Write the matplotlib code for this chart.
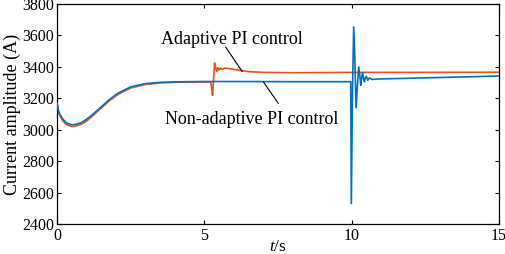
import matplotlib
matplotlib.use("Agg")
import matplotlib.pyplot as plt

plt.rcParams['font.family'] = ['Liberation Serif', 'DejaVu Serif']
plt.rcParams['mathtext.fontset'] = 'custom'
plt.rcParams['mathtext.it'] = 'Liberation Serif:italic'
plt.rcParams['mathtext.rm'] = 'Liberation Serif'

# Non-adaptive PI control (blue)
t_blue = [0, 0.05, 0.1, 0.2, 0.3, 0.4, 0.5, 0.6, 0.8, 1.0, 1.2, 1.5, 1.8, 2.1, 2.5,
          3.0, 3.5, 4.0, 4.5, 5.0, 6.0, 8.0, 9.97, 9.99, 10.03, 10.07, 10.11, 10.15,
          10.2, 10.24, 10.28, 10.31, 10.34, 10.37, 10.4, 10.43, 10.46, 10.5, 10.55,
          10.6, 10.7, 10.9, 12.0, 13.5, 15.0]
i_blue = [3170, 3120, 3097, 3067, 3047, 3037, 3032, 3033, 3043, 3066, 3096, 3146, 3196,
          3236, 3273, 3294, 3302, 3305, 3306, 3307, 3307, 3306, 3306, 2530, 3250, 3655,
          3450, 3140, 3290, 3400, 3340, 3283, 3330, 3365, 3330, 3305, 3328, 3340, 3315,
          3330, 3320, 3323, 3328, 3335, 3342]

# Adaptive PI control (orange)
t_orange = [0, 0.05, 0.1, 0.2, 0.3, 0.4, 0.5, 0.6, 0.8, 1.0, 1.2, 1.5, 1.8, 2.1, 2.5,
            3.0, 3.5, 4.0, 4.5, 5.0, 5.22, 5.25, 5.28, 5.31, 5.35, 5.38, 5.42, 5.46,
            5.5, 5.55, 5.6, 5.7, 5.9, 6.2, 6.5, 7.0, 8.0, 10.0, 12.0, 15.0]
i_orange = [3170, 3114, 3088, 3056, 3036, 3026, 3021, 3022, 3033, 3055, 3087, 3138, 3188,
            3228, 3266, 3288, 3298, 3302, 3303, 3304, 3304, 3260, 3219, 3310, 3425, 3400,
            3370, 3395, 3380, 3393, 3385, 3392, 3388, 3378, 3370, 3365, 3363, 3365, 3365,
            3366]

x_ticks = [0, 5, 10, 15]
y_ticks = [2400, 2600, 2800, 3000, 3200, 3400, 3600, 3800]

fig = plt.figure(figsize=(5.05, 2.54), dpi=100)
ax = fig.add_axes([0.1129, 0.118, 0.988 - 0.1129, 0.984 - 0.118])

ax.plot(t_blue, i_blue, color='#0072BD', lw=1.2, zorder=3)
ax.plot(t_orange, i_orange, color='#E8531A', lw=1.2, zorder=2)

ax.set_xlim(0, 15)
ax.set_ylim(2400, 3800)
ax.set_xticks(x_ticks)
ax.set_yticks(y_ticks)
ax.tick_params(direction='in', top=True, right=True, labelsize=11.5, length=3,
               width=0.8, pad=2)
ax.tick_params(axis='x', pad=3)
for s in ax.spines.values():
    s.set_linewidth(0.9)

ax.set_ylabel('Current amplitude (A)', fontsize=13, labelpad=1)
ax.set_xlabel('$t$/s', fontsize=12.5, labelpad=-3.5)

# annotation leader lines and labels
ax.annotate('', xy=(6.29, 3370), xytext=(5.72, 3527),
            arrowprops=dict(arrowstyle='-', color='black', lw=0.8,
                            shrinkA=0, shrinkB=0))
ax.text(5.94, 3575, 'Adaptive PI control', ha='center', va='center', fontsize=13)
ax.annotate('', xy=(7.0, 3306), xytext=(7.51, 3168),
            arrowprops=dict(arrowstyle='-', color='black', lw=0.8,
                            shrinkA=0, shrinkB=0))
ax.text(6.62, 3068, 'Non-adaptive PI control', ha='center', va='center', fontsize=13)

fig.savefig('out.png', dpi=100)
